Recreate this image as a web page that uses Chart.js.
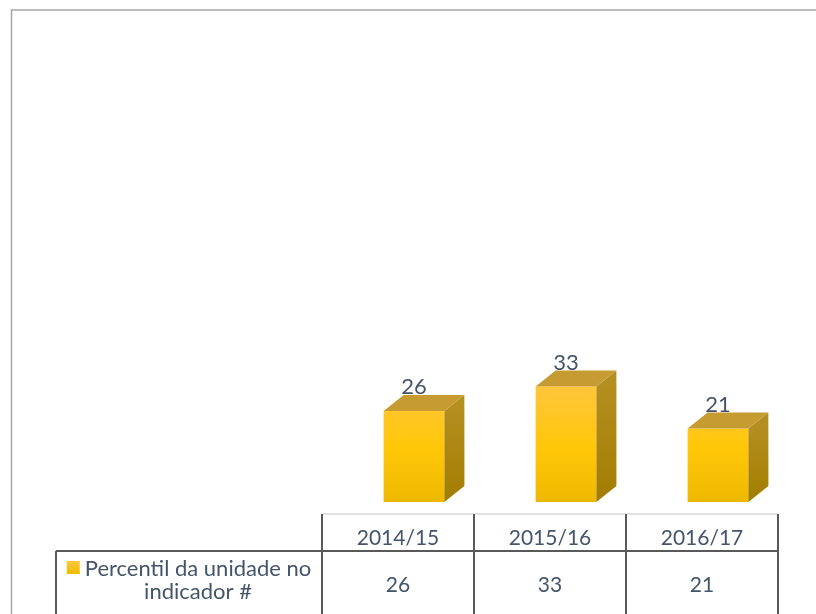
<!DOCTYPE html>
<html>
<head>
<meta charset="utf-8">
<script src="https://cdn.jsdelivr.net/npm/chart.js"></script>
<style>
    body { margin: 0; background: #ffffff; overflow: hidden; }
    #wrap { position: relative; width: 816px; height: 614px; }
</style>
</head>
<body>
<div id="wrap"><canvas id="chart"></canvas></div>
<script>
// data
const periods = ['2014/15', '2015/16', '2016/17'];
const percentil = [26, 33, 21];
const seriesName = ['Percentil da unidade no', 'indicador #'];

const textColor = '#44546A';
const fontFamily = 'Lato, "Open Sans", sans-serif';
const shift = 16;      // 3d bars sit right of the table columns
const depthX = 20, depthY = 16;

// draws top + side faces, labels, data table and outer frame
const cubePlugin = {
    id: 'cube',
    afterDatasetsDraw(chart) {
        const ctx = chart.ctx;
        const meta = chart.getDatasetMeta(0);
        ctx.save();
        meta.data.forEach((bar, i) => {
            const p = bar.getProps(['x', 'y', 'base', 'width'], true);
            const l = p.x - p.width / 2, r = p.x + p.width / 2;

            // side face
            const sg = ctx.createLinearGradient(0, p.y, 0, p.base);
            sg.addColorStop(0, '#B48E1E');
            sg.addColorStop(1, '#A27D00');
            ctx.fillStyle = sg;
            ctx.beginPath();
            ctx.moveTo(r, p.y);
            ctx.lineTo(r + depthX, p.y - depthY);
            ctx.lineTo(r + depthX, p.base - depthY);
            ctx.lineTo(r, p.base);
            ctx.closePath();
            ctx.fill();

            // top face
            ctx.fillStyle = '#C69B32';
            ctx.beginPath();
            ctx.moveTo(l, p.y);
            ctx.lineTo(r, p.y);
            ctx.lineTo(r + depthX, p.y - depthY);
            ctx.lineTo(l + depthX, p.y - depthY);
            ctx.closePath();
            ctx.fill();

            // value label
            ctx.fillStyle = textColor;
            ctx.font = '22px ' + fontFamily;
            ctx.textAlign = 'center';
            ctx.textBaseline = 'alphabetic';
            ctx.fillText(percentil[i], p.x, p.y - 17);
        });
        ctx.restore();
    },
    afterDraw(chart) {
        const ctx = chart.ctx;
        const area = chart.chartArea;
        const n = periods.length;
        const colW = (area.right - area.left) / n;
        const x0 = area.left - shift;
        const headTop = 514, rowTop = 551, bottom = 640, rowLeft = 56;

        ctx.save();
        // outer chart frame
        ctx.strokeStyle = '#A6A6A6';
        ctx.lineWidth = 1.5;
        ctx.strokeRect(11.5, 10, 900, 700);

        // header top line (light)
        ctx.strokeStyle = '#D9D9D9';
        ctx.lineWidth = 1.5;
        ctx.beginPath();
        ctx.moveTo(x0, headTop);
        ctx.lineTo(x0 + colW * n, headTop);
        ctx.stroke();

        // dark grid lines
        ctx.strokeStyle = '#595959';
        ctx.lineWidth = 2;
        ctx.beginPath();
        for (let i = 0; i <= n; i++) {
            const x = Math.round(x0 + colW * i);
            ctx.moveTo(x, headTop);
            ctx.lineTo(x, bottom);
        }
        ctx.moveTo(rowLeft, rowTop);
        ctx.lineTo(x0 + colW * n, rowTop);
        ctx.moveTo(rowLeft, rowTop);
        ctx.lineTo(rowLeft, bottom);
        ctx.stroke();

        // header + values
        ctx.fillStyle = textColor;
        ctx.font = '21px ' + fontFamily;
        ctx.textAlign = 'center';
        ctx.textBaseline = 'alphabetic';
        periods.forEach((p, i) => {
            const cx = x0 + colW * (i + 0.5);
            ctx.fillText(p, cx, 545);
            ctx.fillText(percentil[i], cx, 592);
        });

        // series name with legend key
        ctx.font = '22px ' + fontFamily;
        const w1 = ctx.measureText(seriesName[0]).width;
        const keyW = 13, gap = 5;
        const cellMid = (rowLeft + x0) / 2;
        const startX = cellMid - (keyW + gap + w1) / 2;
        const kg = ctx.createLinearGradient(0, 561, 0, 574);
        kg.addColorStop(0, '#FFC83F');
        kg.addColorStop(1, '#F0BB00');
        ctx.fillStyle = kg;
        ctx.fillRect(startX, 561, keyW, keyW);
        ctx.fillStyle = textColor;
        ctx.textAlign = 'left';
        ctx.fillText(seriesName[0], startX + keyW + gap, 576);
        ctx.textAlign = 'center';
        ctx.fillText(seriesName[1], startX + keyW + gap + w1 / 2, 599);
        ctx.restore();
    }
};

new Chart(document.getElementById('chart'), {
    type: 'bar',
    data: {
        labels: periods,
        datasets: [{
            label: seriesName.join(' '),
            data: percentil,
            backgroundColor(c) {
                const area = c.chart.chartArea;
                if (!area) return '#FFC508';
                const g = c.chart.ctx.createLinearGradient(0, area.top + 230, 0, area.bottom);
                g.addColorStop(0, '#FFC640');
                g.addColorStop(0.55, '#FFC708');
                g.addColorStop(1, '#EDB900');
                return g;
            },
            borderWidth: 0,
            barPercentage: 0.4,
            categoryPercentage: 1
        }]
    },
    options: {
        responsive: true,
        maintainAspectRatio: false,
        animation: false,
        layout: { padding: { left: 338, right: 22, top: 152, bottom: 112 } },
        plugins: {
            legend: { display: false },
            tooltip: { enabled: false }
        },
        scales: {
            x: { display: false },
            y: { display: false, min: 0, max: 100 }
        }
    },
    plugins: [cubePlugin]
});
</script>
</body>
</html>
